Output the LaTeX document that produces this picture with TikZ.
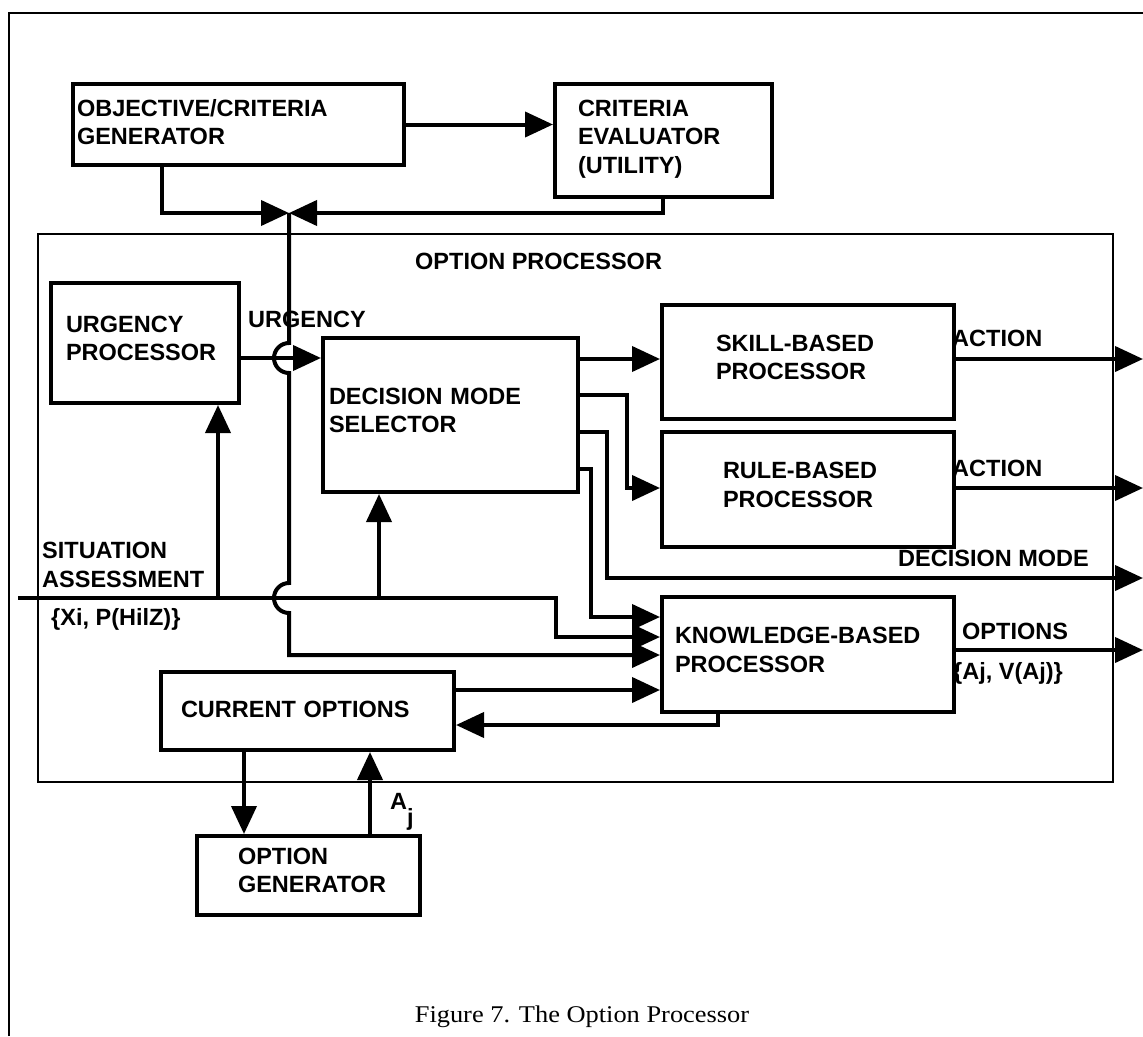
\documentclass[tikz,border=0pt]{standalone}
\usepackage{fontspec}
\setmainfont{Liberation Sans}
\newfontfamily\capfont[FakeStretch=1.1]{Liberation Serif}
\usetikzlibrary{arrows.meta}
\begin{document}
\begin{tikzpicture}[x=1pt,y=-1pt,
  lbl/.style={anchor=north west, inner sep=0pt, align=left, font=\bfseries\fontsize{23.5}{28.5}\selectfont},
  blk/.style={draw, line width=4pt, anchor=north west, inner sep=0pt, align=left, text height=17pt, font=\bfseries\fontsize{23.5}{28.5}\selectfont},
  lsk/.style={execute at begin node={\leftskip=#1\relax}},
  arr/.style={line width=4pt, -{Triangle[length=28pt,width=25pt]}},
  outerline/.style={line width=2.5pt},
]
\useasboundingbox (0,0) rectangle (1143,1036);
% outer frame
\draw[outerline] (9,1036) -- (9,13) -- (1143,13);
% boxes
\node[blk, text width=331pt, minimum height=81pt, text depth=33.5pt, lsk=4pt] (ocg) at (71,82) {OBJECTIVE/CRITERIA\\GENERATOR};
\node[blk, text width=217pt, minimum height=113pt, text depth=66pt, lsk=23pt] (cev) at (553,82) {CRITERIA\\EVALUATOR\\(UTILITY)};
\node[draw, line width=2pt, anchor=north west, inner sep=0pt, minimum width=1075pt, minimum height=548pt] (op) at (37,233) {};
\node[lbl] (opl) at (415,253) {OPTION PROCESSOR};
\node[blk, text width=188pt, minimum height=120pt, text depth=38.5pt, lsk=15pt] (up) at (49,281) {URGENCY\\PROCESSOR};
\node[lbl] (urg) at (248,311) {URGENCY};
\node[blk, text width=255pt, minimum height=154pt, text depth=38.5pt, lsk=6pt] (dms) at (321,336) {DECISION MODE\\SELECTOR};
\node[blk, text width=292pt, minimum height=114pt, text depth=38.5pt, lsk=54pt] (skill) at (660,303) {SKILL-BASED\\PROCESSOR};
\node[blk, text width=292pt, minimum height=115pt, text depth=38.5pt, lsk=61pt] (rule) at (660,430) {RULE-BASED\\PROCESSOR};
\node[blk, text width=292pt, minimum height=115pt, text depth=38.5pt, lsk=13pt] (kb) at (660,595) {KNOWLEDGE-BASED\\PROCESSOR};
\node[blk, text width=293pt, minimum height=78pt, text depth=5pt, lsk=20pt] (co) at (159,670) {CURRENT OPTIONS};
\node[blk, text width=223pt, minimum height=79pt, text depth=40pt, lsk=41pt] (og) at (195,834) {OPTION\\GENERATOR};
% labels
\node[lbl] (act1) at (952,330) {ACTION};
\node[lbl] (act2) at (952,460) {ACTION};
\node[lbl] (dml) at (898,550) {DECISION MODE};
\node[lbl] (optl) at (962,623) {OPTIONS};
\node[lbl] (avl) at (953,662) {\{Aj, V(Aj)\}};
\node[lbl] (sal) at (42,542) {SITUATION\\ASSESSMENT};
\node[lbl] (xil) at (51,608) {\{Xi, P(HilZ)\}};
\node[lbl] (ajl) at (390,793) {A\raisebox{-16pt}{j}};
\node[anchor=base, inner sep=0pt, font=\capfont\fontsize{24}{28}\selectfont] (cap) at (582,1022) {Figure 7. The Option Processor};
% coordinates
\coordinate (jn) at (289,213);
\coordinate (sa0) at (18,598);
\coordinate (s1) at (218,598);
\coordinate (s2) at (379,598);
\coordinate (uy) at (0,358);
\coordinate (o1) at (1143,359);
\coordinate (o2) at (1143,488);
\coordinate (o3) at (1143,578);
\coordinate (o4) at (1143,650);
% connectors
\draw[arr] (ocg.east) -- (ocg.east -| cev.west);
\draw[arr] ([xshift=91pt]ocg.south west) |- (jn);
\draw[arr] ([xshift=110pt]cev.south west) |- (jn);
\draw[arr] (jn) -- (289,343) arc[start angle=90, end angle=270, radius=15pt] -- (289,583) arc[start angle=90, end angle=270, radius=15pt] -- (289,655) -- (kb.west |- 0,655);
\draw[arr] (up.east |- uy) -- (dms.west |- uy);
\draw[arr] (sa0) -- (556,598) |- (kb.west |- 0,637);
\draw[arr] (s1) -- (s1 |- up.south);
\draw[arr] (s2) -- (s2 |- dms.south);
\draw[arr] (dms.east |- 0,359) -- (skill.west |- 0,359);
\draw[arr] (dms.east |- 0,395) -| (627,488) -- (rule.west |- 0,488);
\draw[arr] (dms.east |- 0,432) -| (607,578) -- (o3);
\draw[arr] (dms.east |- 0,469) -| (591,617) -- (kb.west |- 0,617);
\draw[arr] (skill.east |- o1) -- (o1);
\draw[arr] (rule.east |- o2) -- (o2);
\draw[arr] (kb.east |- o4) -- (o4);
\draw[arr] (co.east |- 0,690) -- (kb.west |- 0,690);
\draw[arr] ([xshift=58pt]kb.south west) |- (co.east |- 0,725);
\draw[arr] (co.south -| 244,0) -- (og.north -| 244,0);
\draw[arr] (og.north -| 370,0) -- (co.south -| 370,0);
\end{tikzpicture}
\end{document}
